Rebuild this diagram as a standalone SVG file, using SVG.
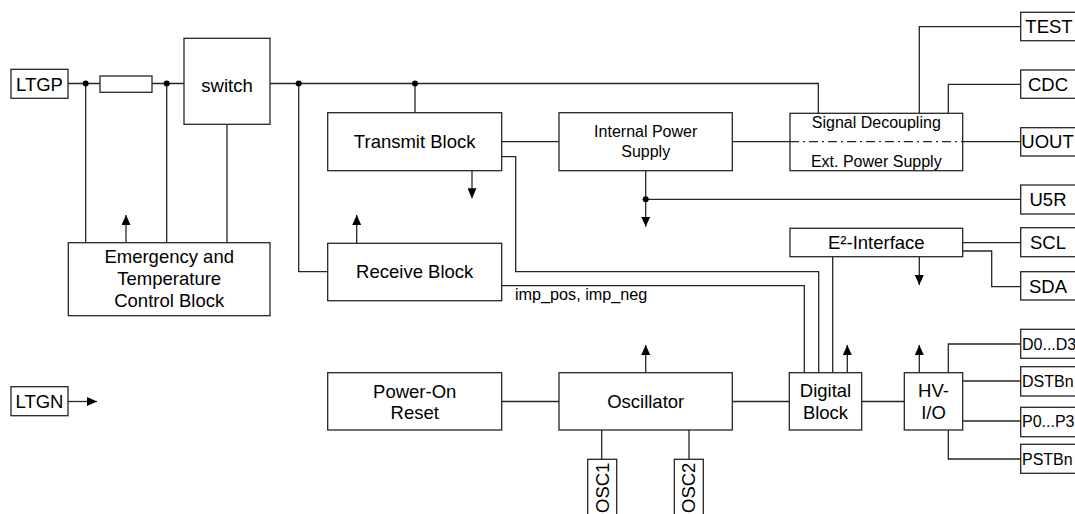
<svg xmlns="http://www.w3.org/2000/svg" width="1075" height="514" viewBox="0 0 1075 514">
<defs>
<marker id="arr" markerUnits="userSpaceOnUse" markerWidth="10" markerHeight="9" refX="10" refY="4.5" orient="auto">
<path d="M0,0 L10,4.5 L0,9 z" fill="#000"/>
</marker>
<style>
.b{fill:#fff;stroke:#262626;stroke-width:1.3}
.w{fill:none;stroke:#262626;stroke-width:1.3}
.a{fill:none;stroke:#262626;stroke-width:1.3;marker-end:url(#arr)}
.d{fill:#000}
text{font-family:"Liberation Sans",Arial,sans-serif;fill:#000}
.t{font-size:18.5px;text-anchor:middle}
.s{font-size:16px;text-anchor:middle}
.p{font-size:16px;text-anchor:start}
.l{font-size:16.2px;text-anchor:start}
</style>
</defs>
<rect width="1075" height="514" fill="#fff"/>

<g id="connectors">
<path class="w" d="M68,83.5 H100 M152,83.5 H184"/>
<path class="w" d="M85.7,83.5 V242.7 M166.7,83.5 V242.7 M227,124.3 V242.7"/>
<path class="a" d="M126,242.7 V215"/>
<path class="w" d="M270,83.5 H818.3 V113.3"/>
<path class="w" d="M298.7,83.5 V271.7 H327.7"/>
<path class="w" d="M415,83.5 V112.7"/>
<path class="a" d="M356.7,243.3 V215"/>
<path class="a" d="M472,170.7 V198.3"/>
<path class="w" d="M501.7,141.7 H559"/>
<path class="w" d="M732.3,141.7 H790 M962.7,141.7 H1020.7"/>
<path class="w" d="M501.7,156.7 H515.7 V271.7 H818.7 V372.7"/>
<path class="w" d="M501.7,285.7 H804.3 V372.7"/>
<path class="a" d="M645.7,170.7 V226.7"/>
<path class="w" d="M645.7,199.3 H1020.7"/>
<path class="w" d="M919.3,113.3 V26.7 H1020.7"/>
<path class="w" d="M948.3,113.3 V84.3 H1020.7"/>
<path class="w" d="M962.7,242.7 H1020.7"/>
<path class="w" d="M962.7,251 H991.7 V286.7 H1020.7"/>
<path class="a" d="M919.3,256.7 V285"/>
<path class="w" d="M832.7,256.7 V372.7"/>
<path class="a" d="M847.3,372.7 V345"/>
<path class="w" d="M861.7,401.5 H904.3"/>
<path class="a" d="M919.3,372.7 V345"/>
<path class="w" d="M948.3,372.7 V344 H1020.7"/>
<path class="w" d="M962.7,381 H1020.7"/>
<path class="w" d="M962.7,421 H1020.7"/>
<path class="w" d="M948.3,430 V459 H1020.7"/>
<path class="w" d="M501.7,401.5 H559 M732.3,401.5 H789.3"/>
<path class="a" d="M645.7,372.7 V345"/>
<path class="w" d="M601.7,430 V459.3 M689,430 V459.3"/>
<path class="a" d="M68,401.5 H97"/>
<circle class="d" cx="85.7" cy="83.5" r="3"/>
<circle class="d" cx="166.7" cy="83.5" r="3"/>
<circle class="d" cx="298.7" cy="83.5" r="3"/>
<circle class="d" cx="415" cy="83.5" r="3"/>
<circle class="d" cx="645.7" cy="199.3" r="3"/>
<text class="l" x="515" y="299.5">imp_pos, imp_neg</text>
</g>

<g id="LTGP"><rect class="b" x="11" y="69.3" width="57" height="29"/><text class="t" x="39.5" y="90.5">LTGP</text></g>
<g id="resistor"><rect class="b" x="100" y="76" width="52" height="16.3"/></g>
<g id="switch"><rect class="b" x="184" y="38.3" width="86" height="86"/><text class="t" x="227" y="91.5">switch</text></g>
<g id="emergency"><rect class="b" x="68.3" y="242.7" width="201.7" height="73"/>
<text class="t" x="169.2" y="263.3">Emergency and</text><text class="t" x="169.2" y="284.6">Temperature</text><text class="t" x="169.2" y="306.6">Control Block</text></g>
<g id="transmit"><rect class="b" x="327.7" y="112.7" width="174" height="58"/><text class="t" x="414.7" y="148.3">Transmit Block</text></g>
<g id="receive"><rect class="b" x="327.7" y="243.3" width="174" height="57.4"/><text class="t" x="414.7" y="278.3">Receive Block</text></g>
<g id="internal-power"><rect class="b" x="559" y="112.7" width="173.3" height="58"/><text class="s" x="645.7" y="137.4">Internal Power</text><text class="s" x="645.7" y="157.4">Supply</text></g>
<g id="signal-decoupling"><rect class="b" x="790" y="113.3" width="172.7" height="57.4"/>
<path class="w" d="M790,141.7 H962.7" stroke-dasharray="9 4 2 4"/>
<text class="s" x="876.3" y="128.4">Signal Decoupling</text><text class="s" x="876.3" y="167.4">Ext. Power Supply</text></g>
<g id="e2-interface"><rect class="b" x="790" y="228.3" width="172.7" height="28.4"/><text class="t" x="876.3" y="249.3">E²-Interface</text></g>
<g id="power-on-reset"><rect class="b" x="327.7" y="372.7" width="174" height="57.3"/><text class="t" x="414.7" y="398">Power-On</text><text class="t" x="414.7" y="418.5">Reset</text></g>
<g id="oscillator"><rect class="b" x="559" y="372.7" width="173.3" height="57.3"/><text class="t" x="645.7" y="408">Oscillator</text></g>
<g id="digital"><rect class="b" x="789.3" y="372.7" width="72.4" height="57.3"/><text class="t" x="825.5" y="397">Digital</text><text class="t" x="825.5" y="418.5">Block</text></g>
<g id="hvio"><rect class="b" x="904.3" y="372.7" width="58.4" height="57.3"/><text class="t" x="933.5" y="397">HV-</text><text class="t" x="933.5" y="418.5">I/O</text></g>
<g id="TEST"><rect class="b" x="1020.7" y="12.3" width="60" height="28.4"/><text class="t" x="1049" y="33.3">TEST</text></g>
<g id="CDC"><rect class="b" x="1020.7" y="70" width="60" height="28.3"/><text class="t" x="1048" y="91">CDC</text></g>
<g id="UOUT"><rect class="b" x="1020.7" y="127.7" width="60" height="28.3"/><text class="t" x="1047.5" y="148.3">UOUT</text></g>
<g id="U5R"><rect class="b" x="1020.7" y="185" width="60" height="29"/><text class="t" x="1048" y="206">U5R</text></g>
<g id="SCL"><rect class="b" x="1020.7" y="227.7" width="60" height="29"/><text class="t" x="1048" y="249.3">SCL</text></g>
<g id="SDA"><rect class="b" x="1020.7" y="271.7" width="60" height="28.3"/><text class="t" x="1048" y="293">SDA</text></g>
<g id="D0D3"><rect class="b" x="1020.7" y="329.3" width="60" height="29"/><text class="p" x="1022" y="349.7">D0...D3</text></g>
<g id="DSTBn"><rect class="b" x="1020.7" y="366.7" width="60" height="29.3"/><text class="p" x="1022" y="386.7">DSTBn</text></g>
<g id="P0P3"><rect class="b" x="1020.7" y="407.3" width="60" height="29.4"/><text class="p" x="1022" y="427">P0...P3</text></g>
<g id="PSTBn"><rect class="b" x="1020.7" y="444.3" width="60" height="29"/><text class="p" x="1022" y="464.7">PSTBn</text></g>
<g id="LTGN"><rect class="b" x="11" y="386.7" width="57" height="29"/><text class="t" x="39.5" y="408">LTGN</text></g>
<g id="OSC1"><rect class="b" x="587.7" y="459.3" width="29" height="60"/><text class="t" style="text-anchor:start" transform="translate(608.5,513) rotate(-90)">OSC1</text></g>
<g id="OSC2"><rect class="b" x="674.3" y="459.3" width="29" height="60"/><text class="t" style="text-anchor:start" transform="translate(695.2,513) rotate(-90)">OSC2</text></g>
</svg>
